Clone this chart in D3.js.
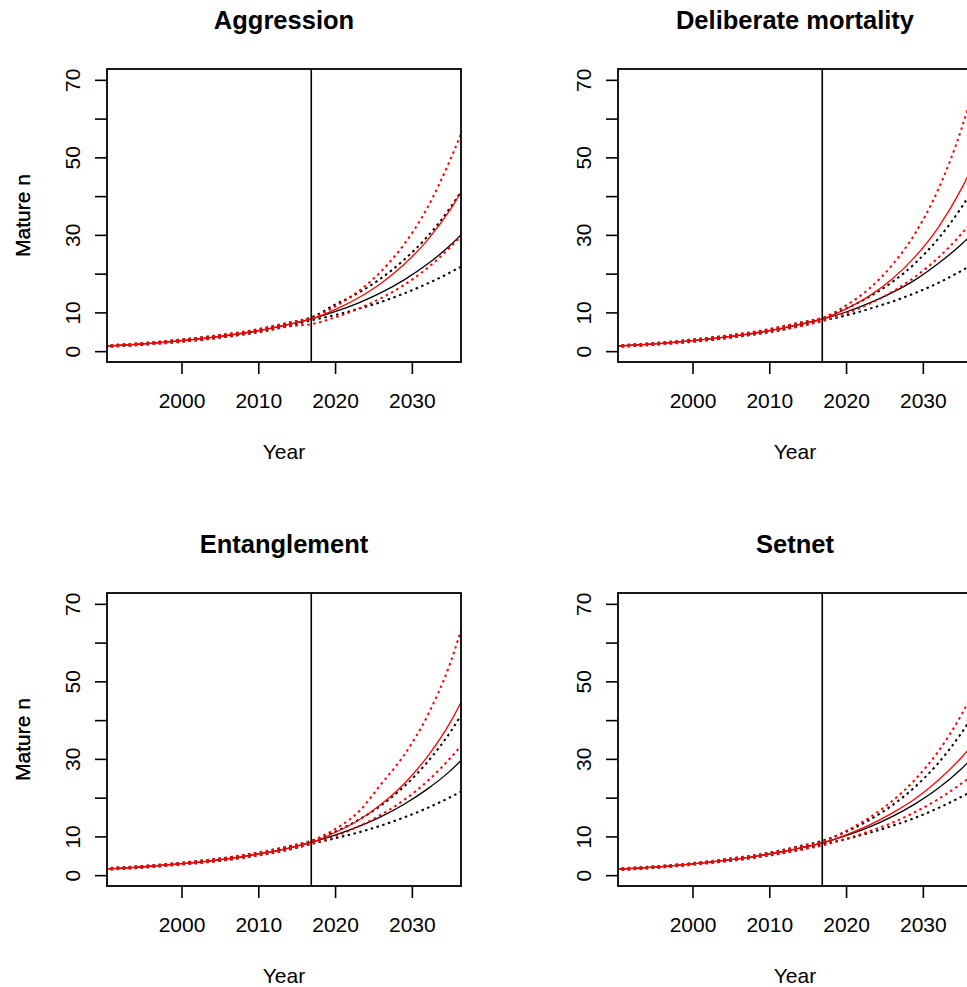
<!DOCTYPE html>
<html>
<head>
<meta charset="utf-8">
<script src="https://cdn.jsdelivr.net/npm/d3@7"></script>
<style>
  body { margin: 0; background: #fff; }
  text { font-family: "Liberation Sans", Arial, sans-serif; fill: #000; }
</style>
</head>
<body>
<div id="chart"></div>
<script>
const width = 967;
const height = 987;

const years = [1990, 1993, 1996, 1999, 2002, 2005, 2008, 2011, 2014, 2017,
  2020, 2023, 2026, 2029, 2032, 2035, 2037];
const xTicks = [2000, 2010, 2020, 2030];
const yTicks = [0, 10, 20, 30, 40, 50, 60, 70];
const yLabels = [0, 10, 30, 50, 70];
const cutYear = 2016.9;
const titles = ["Aggression", "Deliberate mortality", "Entanglement", "Setnet"];

// Aggression
const aggBlack = [1.3, 1.6, 2.0, 2.5, 3.1, 3.8, 4.6, 5.6, 6.9, 8.4, 10.2, 12.4, 15.1, 18.4, 22.4, 27.3, 31.2];
const aggBlackHi = [1.5, 1.8, 2.2, 2.8, 3.4, 4.1, 4.9, 6.0, 7.3, 8.8, 12.0, 15.0, 18.8, 23.6, 29.5, 37.0, 43.0];
const aggBlackLo = [1.1, 1.4, 1.8, 2.3, 2.8, 3.5, 4.3, 5.2, 6.5, 8.0, 9.3, 10.9, 12.7, 14.9, 17.4, 20.3, 22.5];
const aggRed = [1.3, 1.6, 2.0, 2.5, 3.1, 3.8, 4.7, 5.7, 6.9, 8.3, 10.7, 13.7, 17.5, 22.4, 28.6, 36.5, 43.0];
const aggRedHi = [1.5, 1.8, 2.3, 2.8, 3.4, 4.2, 5.0, 6.1, 7.4, 8.6, 11.5, 15.4, 20.6, 27.6, 36.9, 49.4, 59.0];
const aggRedLo = [1.1, 1.4, 1.8, 2.2, 2.8, 3.5, 4.3, 5.3, 6.4, 7.0, 8.7, 10.9, 13.7, 17.1, 21.4, 26.8, 31.0];

// Deliberate mortality
const delBlack = [1.3, 1.6, 2.0, 2.5, 3.1, 3.8, 4.6, 5.6, 6.9, 8.3, 10.1, 12.4, 15.1, 18.4, 22.6, 27.5, 31.3];
const delBlackHi = [1.5, 1.8, 2.2, 2.8, 3.4, 4.1, 4.9, 6.0, 7.3, 8.6, 11.0, 14.0, 17.8, 22.7, 29.0, 37.0, 43.4];
const delBlackLo = [1.1, 1.4, 1.8, 2.3, 2.8, 3.5, 4.3, 5.2, 6.5, 7.9, 9.2, 10.9, 12.8, 15.0, 17.6, 20.7, 23.0];
const delRed = [1.3, 1.6, 2.0, 2.5, 3.1, 3.8, 4.7, 5.7, 6.9, 8.3, 10.9, 14.2, 18.6, 24.4, 31.9, 41.8, 50.0];
const delRedHi = [1.5, 1.8, 2.3, 2.8, 3.4, 4.2, 5.0, 6.1, 7.4, 8.6, 11.8, 16.1, 22.2, 30.4, 41.7, 57.2, 70.6];
const delRedLo = [1.1, 1.4, 1.8, 2.2, 2.8, 3.5, 4.3, 5.3, 6.4, 7.8, 9.7, 12.2, 15.3, 19.2, 24.1, 30.2, 35.0];

// Entanglement
const entBlack = [1.6, 1.9, 2.3, 2.8, 3.3, 4.0, 4.8, 5.8, 7.0, 8.5, 10.3, 12.5, 15.1, 18.3, 22.2, 26.9, 30.8];
const entBlackHi = [1.8, 2.1, 2.5, 3.0, 3.6, 4.3, 5.1, 6.2, 7.4, 8.9, 11.2, 14.2, 18.0, 22.9, 29.1, 36.9, 43.2];
const entBlackLo = [1.4, 1.7, 2.1, 2.6, 3.1, 3.7, 4.5, 5.5, 6.6, 8.1, 9.5, 11.0, 12.8, 14.9, 17.3, 20.1, 22.2];
const entRed = [1.6, 1.9, 2.3, 2.8, 3.3, 4.0, 4.8, 5.8, 7.0, 8.5, 11.0, 14.1, 18.3, 23.6, 30.5, 39.4, 46.9];
const entRedHi = [1.8, 2.1, 2.5, 3.0, 3.6, 4.3, 5.2, 6.2, 7.5, 8.9, 11.9, 16.2, 23.5, 31.0, 41.0, 54.7, 67.0];
const entRedLo = [1.4, 1.7, 2.1, 2.6, 3.1, 3.7, 4.5, 5.4, 6.6, 8.1, 10.0, 12.5, 15.6, 19.4, 24.2, 30.2, 34.8];

// Setnet
const setBlack = [1.5, 1.8, 2.2, 2.7, 3.3, 4.0, 4.8, 5.8, 7.0, 8.4, 10.2, 12.4, 15.1, 18.4, 22.4, 27.4, 31.3];
const setBlackHi = [1.7, 2.0, 2.4, 2.9, 3.5, 4.3, 5.1, 6.2, 7.5, 8.9, 11.2, 14.2, 18.0, 22.8, 28.9, 36.6, 42.7];
const setBlackLo = [1.3, 1.6, 2.0, 2.5, 3.1, 3.7, 4.5, 5.4, 6.6, 8.0, 9.3, 10.9, 12.7, 14.8, 17.3, 20.2, 22.3];
const setRed = [1.5, 1.8, 2.2, 2.7, 3.3, 4.0, 4.8, 5.8, 7.0, 8.3, 10.4, 12.9, 16.0, 19.7, 24.5, 30.3, 34.9];
const setRedHi = [1.7, 2.0, 2.4, 2.9, 3.5, 4.3, 5.1, 6.1, 7.4, 8.7, 11.4, 14.8, 19.1, 24.7, 31.9, 41.3, 49.0];
const setRedLo = [1.3, 1.6, 2.0, 2.5, 3.1, 3.7, 4.5, 5.4, 6.5, 7.7, 9.4, 11.3, 13.5, 16.3, 19.6, 23.6, 26.6];

const panels = [
  { title: titles[0], series: [aggBlack, aggBlackHi, aggBlackLo, aggRed, aggRedHi, aggRedLo] },
  { title: titles[1], series: [delBlack, delBlackHi, delBlackLo, delRed, delRedHi, delRedLo] },
  { title: titles[2], series: [entBlack, entBlackHi, entBlackLo, entRed, entRedHi, entRedLo] },
  { title: titles[3], series: [setBlack, setBlackHi, setBlackLo, setRed, setRedHi, setRedLo] },
];
// colour, dash and width for each series, same order as above
const seriesStyle = [
  { color: "#000", dash: null, w: 1.3 },
  { color: "#000", dash: "2.5,3.5", w: 2 },
  { color: "#000", dash: "2.5,3.5", w: 2 },
  { color: "#ff0000", dash: null, w: 1.3 },
  { color: "#ff0000", dash: "2.5,3.5", w: 2 },
  { color: "#ff0000", dash: "2.5,3.5", w: 2 },
];

const plotW = 354;
const plotH = 293;
const colLeft = [107, 618];
const rowTop = [69, 593];

const svg = d3
  .select("#chart")
  .append("svg")
  .attr("width", width)
  .attr("height", height)
  .style("display", "block");

svg.append("rect").attr("width", width).attr("height", height).attr("fill", "#fff");

const xScale = d3.scaleLinear().domain([1990.3, 2036.4]).range([0, plotW]);
const yScale = d3.scaleLinear().domain([-2.8, 72.8]).range([plotH, 0]);

const line = d3
  .line()
  .x((d) => xScale(d[0]))
  .y((d) => yScale(d[1]))
  .curve(d3.curveMonotoneX);

panels.forEach((p, i) => {
  const left = colLeft[i % 2];
  const top = rowTop[Math.floor(i / 2)];
  const g = svg.append("g").attr("transform", `translate(${left},${top})`);

  g.append("clipPath")
    .attr("id", `clip${i}`)
    .append("rect")
    .attr("width", plotW)
    .attr("height", plotH);

  const lines = g.append("g").attr("clip-path", `url(#clip${i})`);
  lines
    .selectAll("path")
    .data(p.series)
    .join("path")
    .attr("d", (s) => line(years.map((yr, k) => [yr, s[k]])))
    .attr("fill", "none")
    .attr("stroke", (s, k) => seriesStyle[k].color)
    .attr("stroke-width", (s, k) => seriesStyle[k].w)
    .attr("stroke-dasharray", (s, k) => seriesStyle[k].dash);

  g.append("line")
    .attr("x1", xScale(cutYear))
    .attr("x2", xScale(cutYear))
    .attr("y1", 0)
    .attr("y2", plotH)
    .attr("stroke", "#000")
    .attr("stroke-width", 1.6);

  g.append("rect")
    .attr("width", plotW)
    .attr("height", plotH)
    .attr("fill", "none")
    .attr("stroke", "#000")
    .attr("stroke-width", 1.8);

  const xAxis = g
    .append("g")
    .attr("transform", `translate(0,${plotH})`)
    .call(d3.axisBottom(xScale).tickValues(xTicks).tickSize(12).tickFormat(d3.format("d")));
  xAxis.select(".domain").remove();
  xAxis.selectAll("line").attr("stroke-width", 1.6);
  xAxis.selectAll("text")
    .attr("y", 46)
    .attr("dy", null)
    .style("font-size", "21px")
    .attr("fill", "#000");

  const yAxis = g
    .append("g")
    .call(
      d3.axisLeft(yScale)
        .tickValues(yTicks)
        .tickSize(12)
        .tickFormat((d) => (yLabels.includes(d) ? d : ""))
    );
  yAxis.select(".domain").remove();
  yAxis.selectAll("line").attr("stroke-width", 1.6);
  yAxis.selectAll("text")
    .attr("x", null)
    .attr("dy", null)
    .attr("text-anchor", "middle")
    .attr("transform", "translate(-27,0) rotate(-90)")
    .style("font-size", "21px")
    .attr("fill", "#000");

  g.append("text")
    .attr("x", plotW / 2)
    .attr("y", -40)
    .attr("text-anchor", "middle")
    .style("font-size", "25.5px")
    .style("font-weight", "bold")
    .text(p.title);

  g.append("text")
    .attr("x", plotW / 2)
    .attr("y", plotH + 97)
    .attr("text-anchor", "middle")
    .style("font-size", "21px")
    .text("Year");

  g.append("text")
    .attr("transform", `translate(${30 - left},${plotH / 2}) rotate(-90)`)
    .attr("text-anchor", "middle")
    .style("font-size", "21px")
    .text("Mature n");
});
</script>
</body>
</html>
